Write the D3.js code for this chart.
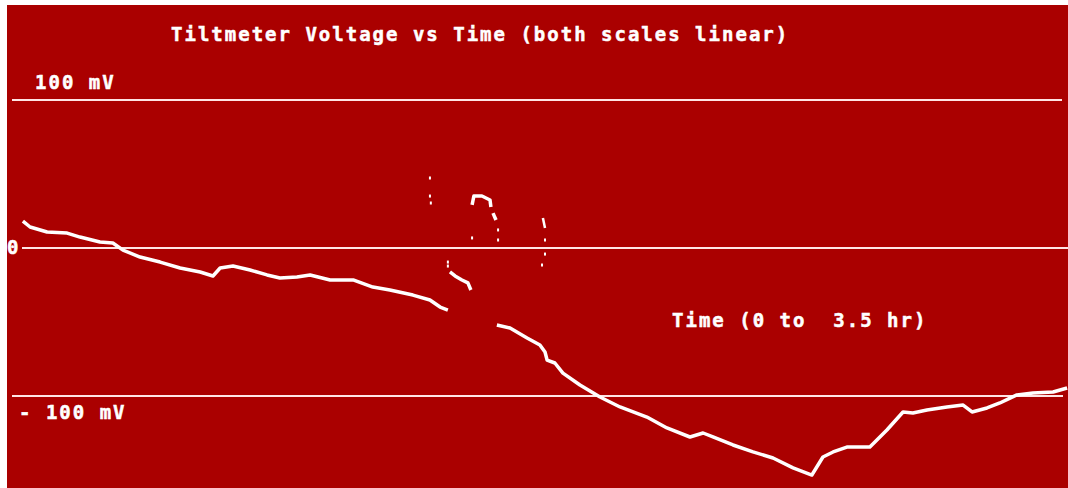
<!DOCTYPE html>
<html><head><meta charset="utf-8">
<script src="https://cdn.jsdelivr.net/npm/d3@7"></script>
<style>
html,body{margin:0;padding:0;background:#fff;}
svg{display:block;}
text{font-family:"DejaVu Sans Mono",monospace;font-weight:bold;fill:#fff;stroke:#fff;stroke-width:0.5px;letter-spacing:2px;white-space:pre;}
</style></head><body>
<svg id="c" width="1068" height="488"></svg>
<script>
// Trace segments: time (hr) and voltage (mV)
const seg1T = [0.003,0.027,0.084,0.151,0.194,0.261,0.304,0.338,0.395,0.462,0.529,0.596,0.639,0.663,0.706,0.763,0.820,0.863,0.920,0.964,1.031,1.108,1.174,1.231,1.308,1.365,1.399,1.425];
const seg1V = [18.2,14.2,10.8,10.1,7.4,4.1,3.4,-1.4,-6.1,-9.5,-13.5,-16.2,-18.9,-13.5,-12.2,-14.9,-18.2,-20.3,-19.6,-18.2,-21.6,-21.6,-26.4,-28.4,-31.8,-35.1,-39.9,-41.9];
const seg2T = [1.432,1.449,1.472,1.492,1.502];
const seg2V = [-16.2,-18.9,-21.6,-23.6,-28.4];
const seg3T = [1.589,1.633,1.690,1.733,1.750,1.757,1.783,1.810,1.867,1.934,2.001,2.091,2.158,2.235,2.279,2.312,2.379,2.446,2.513,2.580,2.643,2.680,2.714,2.760,2.837,2.894,2.948,2.981,3.028,3.095,3.149,3.179,3.229,3.272,3.306,3.329,3.383,3.450,3.497];
const seg3V = [-52.0,-54.1,-60.8,-65.5,-70.3,-75.7,-77.7,-84.5,-92.6,-100.7,-107.4,-114.2,-121.6,-127.7,-125.0,-127.7,-133.1,-137.8,-141.9,-148.6,-153.4,-141.2,-137.8,-134.5,-134.5,-123.0,-110.8,-111.5,-109.5,-107.4,-106.1,-110.8,-108.1,-104.7,-101.4,-99.3,-98.0,-97.3,-94.6];
// short glitch strokes
const glitchAT = [1.506,1.512,1.539,1.566,1.569]; const glitchAV = [29.1,35.1,35.1,32.4,27.7];
const glitchBT = [1.576,1.586];                   const glitchBV = [23.6,18.9];
const glitchCT = [1.743,1.750];                   const glitchCV = [20.3,13.5];
// isolated glitch dots
const dotT = [1.365,1.365,1.368,1.425,1.425,1.506,1.593,1.593,1.750,1.750,1.740];
const dotV = [47.3,35.1,30.4,-9.5,-12.2,6.8,12.2,5.4,5.4,-4.1,-11.5];
// reference levels and labels
const levels = [100, 0, -100];
const levelLabels = ["100 mV", "0", "- 100 mV"];
const title = "Tiltmeter Voltage vs Time (both scales linear)";
const xLabel = "Time (0 to  3.5 hr)";

const svg = d3.select("#c");
const x = d3.scaleLinear().domain([0, 3.5]).range([22, 1068]);
const y = d3.scaleLinear().domain([-100, 100]).range([396, 100]);

svg.append("rect").attr("x",7).attr("y",5).attr("width",1061).attr("height",483).attr("fill","#aa0000");

// level lines
const lineExt = {100:[12,1062], 0:[22,1068], "-100":[12,1063]};
levels.forEach(l => {
  svg.append("line").attr("x1", lineExt[l][0]).attr("x2", lineExt[l][1])
    .attr("y1", Math.round(y(l))).attr("y2", Math.round(y(l)))
    .attr("stroke", "#ffe4e4").attr("stroke-width", 2);
});

// labels
svg.append("text").attr("x",171).attr("y",41).attr("font-size",19).text(title);
svg.append("text").attr("x",35).attr("y",89).attr("font-size",19).text(levelLabels[0]);
svg.append("text").attr("x",7).attr("y",254).attr("font-size",19).text(levelLabels[1]);
svg.append("text").attr("x",19).attr("y",419).attr("font-size",19).text(levelLabels[2]);
svg.append("text").attr("x",672).attr("y",327).attr("font-size",19).text(xLabel);

const line = d3.line().x(d => x(d[0])).y(d => y(d[1]));
const draw = (T, V, w) => svg.append("path").datum(d3.zip(T, V)).attr("d", line)
  .attr("fill","none").attr("stroke","#fff").attr("stroke-width", w).attr("stroke-linejoin","round");
draw(seg1T, seg1V, 3.5);
draw(seg2T, seg2V, 3.5);
draw(seg3T, seg3V, 3.5);
draw(glitchAT, glitchAV, 3.5);
draw(glitchBT, glitchBV, 3.5);
draw(glitchCT, glitchCV, 2.5);
svg.selectAll("rect.dot").data(d3.zip(dotT, dotV)).join("rect").attr("class","dot")
  .attr("x", d => x(d[0]) - 1).attr("y", d => y(d[1]) - 1.5).attr("width", 2).attr("height", 3).attr("fill","#fff");
</script>
</body></html>
